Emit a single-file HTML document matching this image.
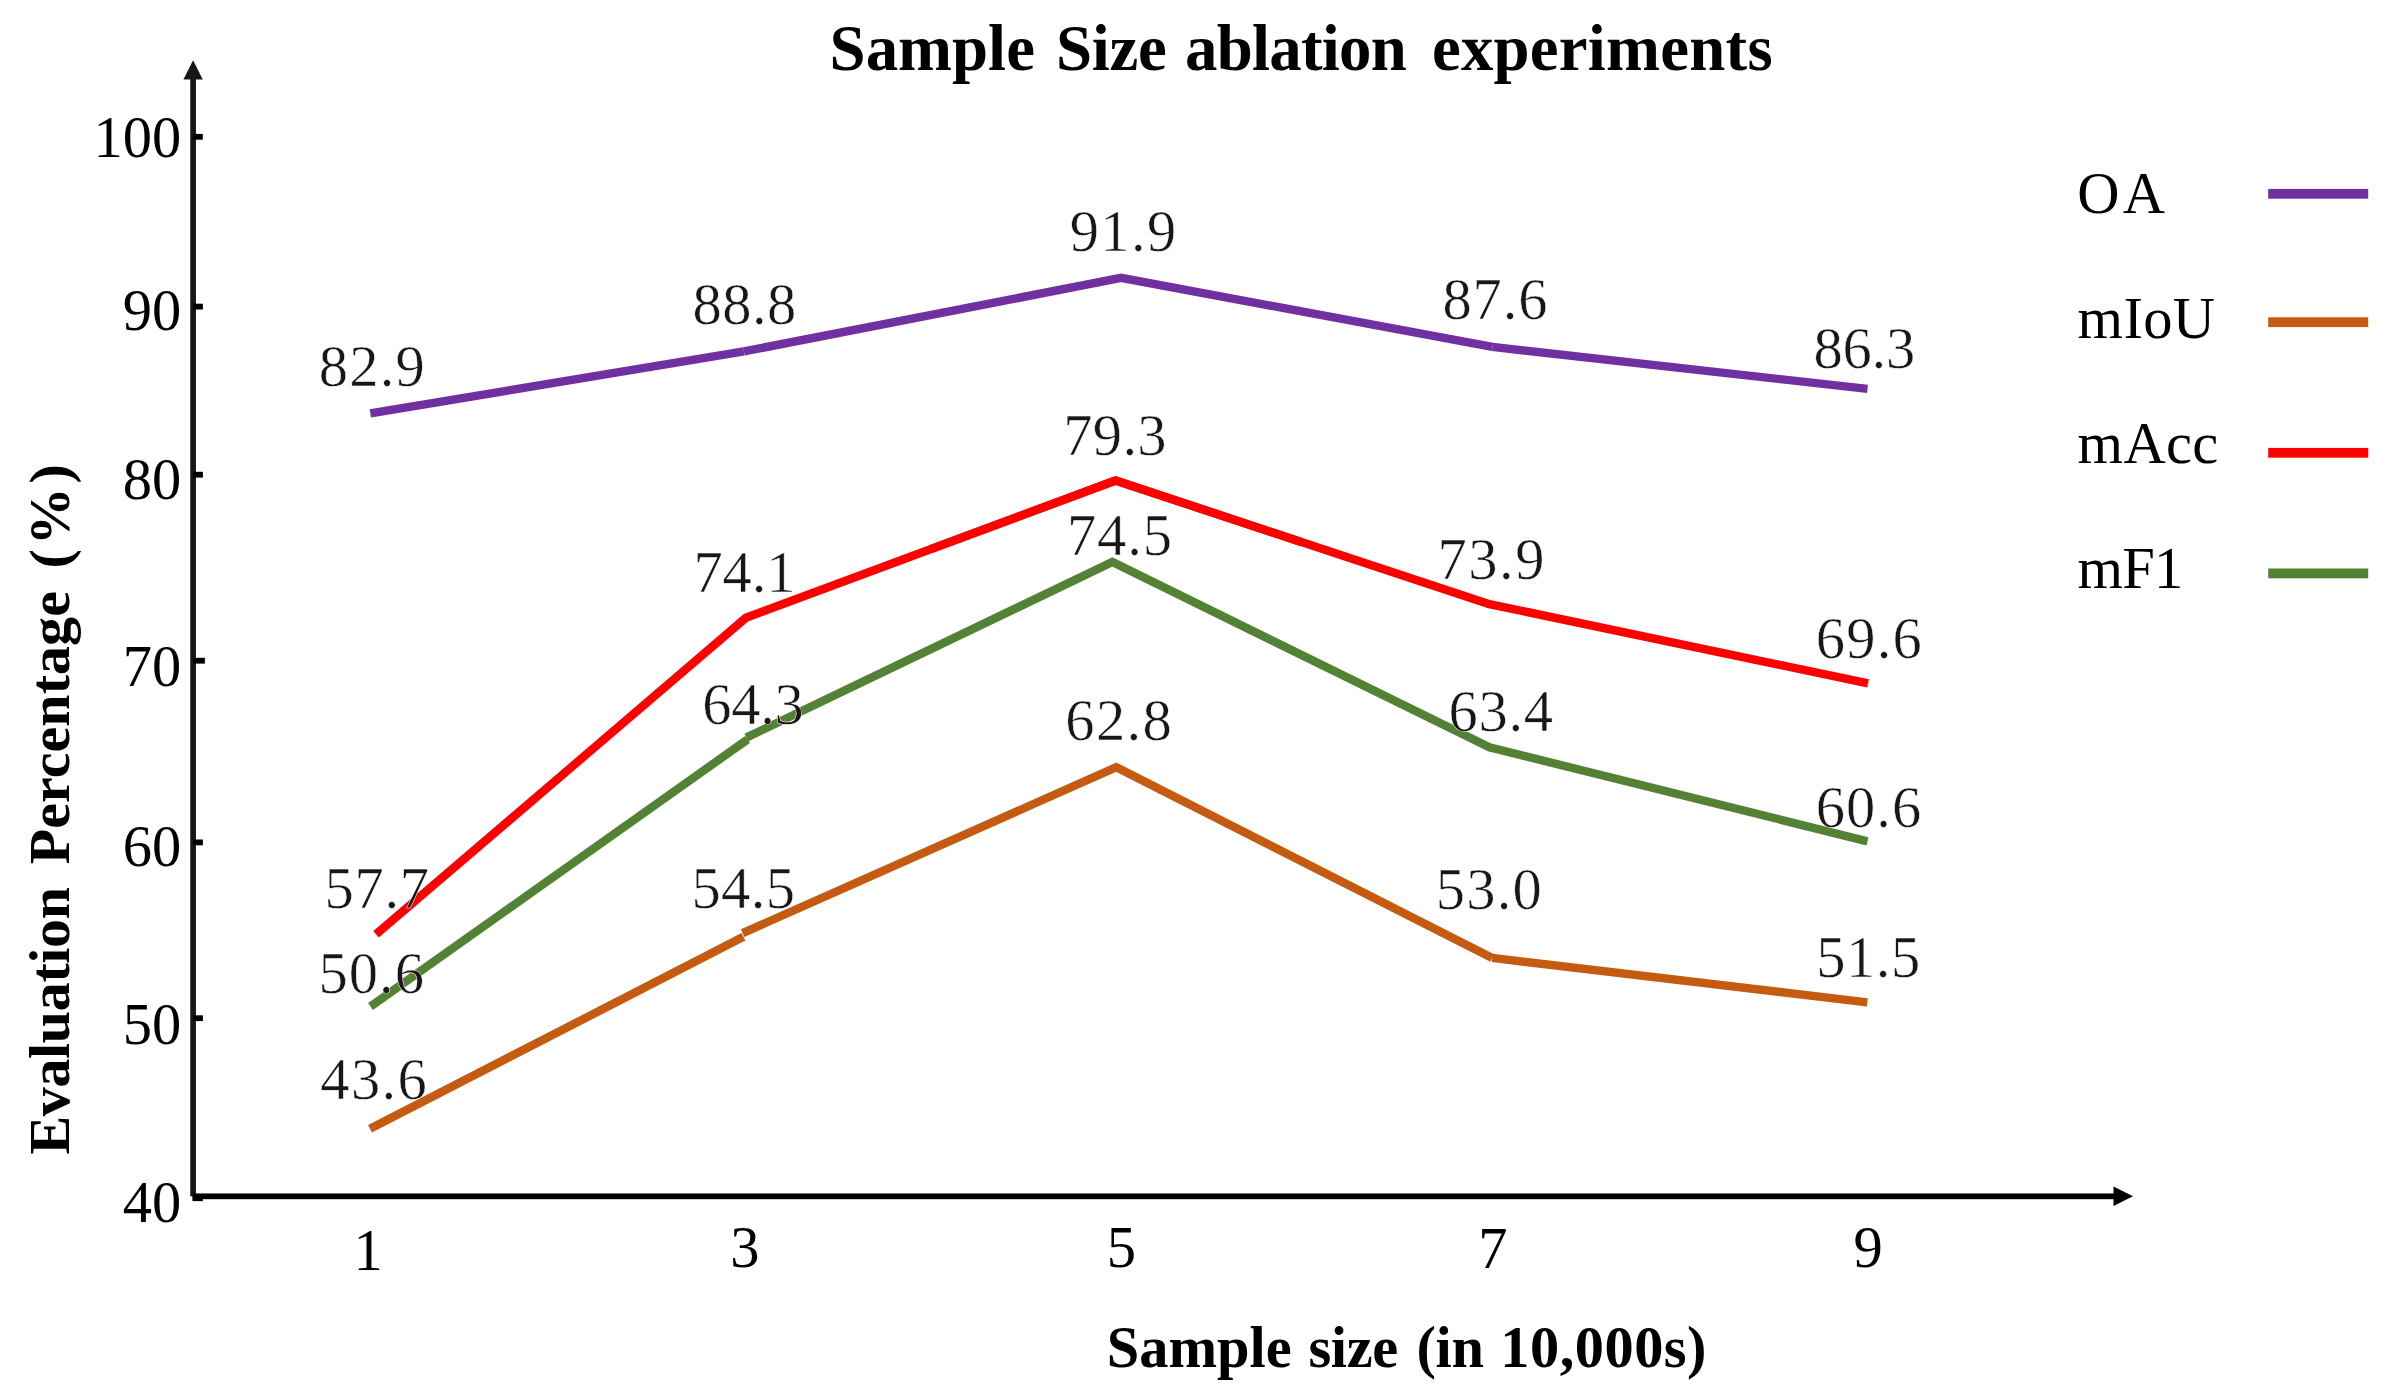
<!DOCTYPE html>
<html lang="en">
<head>
<meta charset="utf-8">
<title>Sample Size ablation experiments</title>
<style>
  html, body { margin: 0; padding: 0; background: #fff; }
  body { width: 2390px; height: 1396px; overflow: hidden; }
  svg { display: block; }
  svg text { font-family: "Liberation Serif", "Times New Roman", serif; white-space: pre; }
  .num text { font-size: 58.5px; fill: #000; }
  .val text { fill: #1a1617; stroke: #fff; stroke-width: 0.5px; }
  .ttl { font-weight: bold; fill: #000; }
  .series * { fill: none; stroke-width: 8.4; stroke-linecap: butt; stroke-linejoin: miter; }
  .rj { stroke-linejoin: round !important; }
  .oa * { stroke: #7030a0; } .miou * { stroke: #c55a11; } .macc * { stroke: #ff0000; } .mf1 * { stroke: #548235; }
</style>
</head>
<body>
<svg width="2390" height="1396" viewBox="0 0 2390 1396" role="img" aria-label="Line chart: Sample Size ablation experiments">
<rect width="2390" height="1396" fill="#fff"/>

<!-- data series (drawn under the labels) -->
<g class="series oa">
  <line x1="370.3" y1="413.3" x2="743.9" y2="351.4"/>
  <polyline points="743.9,351.4 1121,277.9 1492.4,346.9"/>
  <line x1="1492.4" y1="346.9" x2="1867.5" y2="388.9"/>
</g>
<g class="series miou">
  <line x1="370" y1="1128.8" x2="743.4" y2="936.8"/>
  <polyline points="742.6,933.1 1116.3,767.2 1492.2,957.9"/>
  <line x1="1492.2" y1="957.9" x2="1867.3" y2="1002.4"/>
</g>
<g class="series macc">
  <polyline class="rj" points="376,934.3 745.9,617.8 1115.5,480.5"/>
  <polyline class="rj" points="1115.5,480.5 1487.9,603.8 1868,683.4"/>
  <polyline points="930.7,549.15 1115.5,480.5 1301.7,542.15"/>
</g>
<g class="series mf1">
  <line x1="370.5" y1="1006.5" x2="747.5" y2="739.5"/>
  <polyline points="746.3,737.6 1112.4,562 1489.4,747.3 1867.5,841.3"/>
</g>

<!-- axes -->
<g class="axes">
  <rect x="190.25" y="78" width="5.7" height="1118.3" fill="#1a1617"/>
  <polygon points="193.1,60.2 183.4,79.6 202.8,79.6" fill="#1a1617"/>
  <rect x="193" y="1193.45" width="1921.5" height="5.75"/>
  <polygon points="2133,1196.3 2113.5,1186.6 2113.5,1206.1"/>
  <rect x="193" y="133.9" width="9.8" height="5.8"/>
  <rect x="193" y="303.7" width="9.9" height="5.8"/>
  <rect x="193" y="471.8" width="9.9" height="5.8"/>
  <rect x="193" y="657.8" width="11.9" height="5.8"/>
  <rect x="193" y="839.5" width="9.9" height="5.8"/>
  <rect x="193" y="1015.3" width="9.9" height="5.8"/>
  <rect x="192.4" y="1195.3" width="10.5" height="5.8"/>
</g>

<!-- legend swatches -->
<g class="legend-lines">
  <rect x="2268.2" y="188.9" width="100" height="9.8" fill="#7030a0"/>
  <rect x="2268.2" y="317.3" width="100" height="9.8" fill="#c55a11"/>
  <rect x="2268.2" y="447.9" width="100" height="9.8" fill="#ff0000"/>
  <rect x="2268.2" y="568.5" width="100" height="9.8" fill="#548235"/>
</g>

<!-- y tick labels -->
<g class="num yticks">
  
<text x="93.4" y="156.5">100</text>
  <text x="122.65" y="330.3">90</text>
  <text x="122.65" y="499.3">80</text>
  <text x="122.65" y="686.3">70</text>
  <text x="122.65" y="866.1">60</text>
  <text x="122.65" y="1043.9">50</text>
  <text x="122.65" y="1222.4">40</text>
</g>
<!-- x tick labels -->
<g class="num xticks">
  
<text x="353.6" y="1270.0">1</text>
  <text x="730.22" y="1266.9">3</text>
  <text x="1106.85" y="1266.9">5</text>
  <text x="1478.18" y="1268.4">7</text>
  <text x="1853.52" y="1266.9">9</text>
</g>
<!-- data value labels -->
<g class="num val">
  
<text x="318.85" y="386.25" letter-spacing="1.2">82.9</text>
  <text x="692.45" y="324.05" letter-spacing="0.48">88.8</text>
  <text x="1069.8" y="250.55" letter-spacing="1.32">91.9</text>
  <text x="1442.55" y="319.05" letter-spacing="0.82">87.6</text>
  <text x="1813.55" y="368.35" letter-spacing="-0.23">86.3</text>
  <text x="324.6" y="907.95" letter-spacing="0.7">57.7</text>
  <text x="693.45" y="591.95" letter-spacing="-0.1">74.1</text>
  <text x="1063.35" y="454.95" letter-spacing="0.27">79.3</text>
  <text x="1437.45" y="578.65" letter-spacing="1.57">73.9</text>
  <text x="1815.8" y="658.35" letter-spacing="1.23">69.6</text>
  <text x="318.4" y="993.35" letter-spacing="1.07">50.6</text>
  <text x="702.3" y="724.05" letter-spacing="-0.28">64.3</text>
  <text x="1067.05" y="554.95" letter-spacing="0.82">74.5</text>
  <text x="1448.6" y="730.55" letter-spacing="0.65">63.4</text>
  <text x="1815.8" y="827.35" letter-spacing="1.03">60.6</text>
  <text x="320.35" y="1098.75" letter-spacing="1.32">43.6</text>
  <text x="691.5" y="908.25" letter-spacing="0.35">54.5</text>
  <text x="1065.3" y="739.95" letter-spacing="1.37">62.8</text>
  <text x="1435.7" y="909.25" letter-spacing="1.23">53.0</text>
  <text x="1816.3" y="976.55" letter-spacing="0.52">51.5</text>
</g>
<!-- legend labels -->
<g class="num legend">
  
<text x="2077.3" y="213.2" letter-spacing="3.1">OA</text>
  <text x="2077.55" y="337.9" letter-spacing="0.35">mIoU</text>
  <text x="2077.55" y="462.5" letter-spacing="0.35">mAcc</text>
  <text x="2077.55" y="587.8" letter-spacing="-0.75">mF1</text>
</g>

<!-- titles -->
<text class="ttl" y="70.2" font-size="64.8"><tspan x="829.60" letter-spacing="0.02">Sample</tspan> <tspan x="1055.90" letter-spacing="-0.23">Size</tspan> <tspan x="1185.10" letter-spacing="-0.74">ablation</tspan> <tspan x="1431.95" letter-spacing="0.24">experiments</tspan></text>
<text class="ttl" y="1367.0" font-size="58.4"><tspan x="1106.80" letter-spacing="-0.01">Sample</tspan> <tspan x="1308.45" letter-spacing="-0.35">size</tspan> <tspan x="1416.50" letter-spacing="-0.38">(in</tspan> <tspan x="1500.35" letter-spacing="0.49">10,000s)</tspan></text>
<text class="ttl" y="68.7" font-size="58.0" transform="rotate(-90)"><tspan x="-1154.50" letter-spacing="-0.36">Evaluation</tspan> <tspan x="-864.30" letter-spacing="0.06">Percentage</tspan> <tspan x="-568.40" letter-spacing="3.82">(%)</tspan></text>
</svg>
</body>
</html>
